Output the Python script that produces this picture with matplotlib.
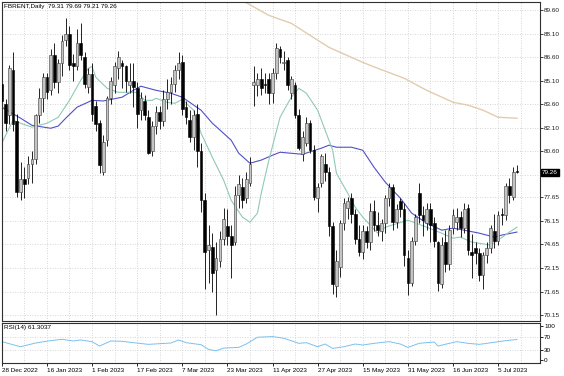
import matplotlib.pyplot as plt
from matplotlib import transforms
import numpy as np

plt.rcParams["font.family"] = ["Liberation Sans", "DejaVu Sans"]

title = "FBRENT,Daily  79.31 79.69 79.21 79.26"

# daily OHLC, 28 Dec 2022 .. 12 Jul 2023
opens = [84.9, 83.6, 82.9, 85.8, 82.5, 78.0, 78.8, 78.9, 79.8, 80.1,
         82.9, 84.0, 85.3, 84.5, 86.7, 85.0, 86.2, 87.7, 88.1, 86.2,
         86.0, 87.5, 86.6, 84.7, 85.5, 83.5, 82.4, 79.3, 81.3, 84.0,
         84.8, 85.9, 86.2, 86.0, 84.8, 85.1, 84.6, 83.2, 83.8, 82.8,
         80.6, 82.2, 83.1, 82.5, 83.9, 84.4, 84.9, 85.8, 86.3, 83.4,
         82.6, 81.5, 83.0, 80.6, 77.5, 74.3, 74.5, 73.0, 73.6, 75.0,
         75.8, 75.2, 74.8, 77.8, 78.3, 77.6, 78.6, 84.8, 84.8, 85.2,
         84.9, 85.2, 84.3, 85.6, 87.1, 86.2, 86.4, 84.3, 84.8, 82.9,
         80.4, 81.1, 82.4, 80.7, 77.6, 78.6, 79.8, 79.3, 75.8, 72.0,
         73.2, 76.0, 77.0, 77.6, 76.6, 75.0, 74.2, 75.5, 74.8, 76.8,
         75.9, 75.5, 76.0, 77.6, 78.3, 76.1, 77.4, 76.9, 73.8, 72.2,
         74.9, 77.9, 76.5, 76.0, 76.9, 76.0, 74.8, 72.1, 74.8, 73.4,
         75.7, 76.1, 76.4, 75.7, 77.0, 74.2, 74.4, 74.1, 72.7, 74.0,
         74.4, 75.5, 74.9, 76.6, 76.5, 78.4, 77.7, 79.31]
highs = [85.4, 83.9, 86.1, 86.9, 83.0, 79.9, 79.6, 80.3, 80.6, 83.0,
         84.6, 85.6, 85.6, 87.1, 87.5, 86.5, 88.0, 89.1, 88.6, 86.8,
         88.4, 88.8, 86.9, 85.9, 86.2, 83.8, 82.6, 81.6, 84.1, 85.3,
         86.3, 87.0, 86.4, 86.1, 86.2, 86.2, 85.0, 84.4, 84.2, 83.2,
         82.5, 83.5, 83.5, 84.5, 85.2, 85.3, 86.1, 86.9, 86.7, 83.8,
         83.2, 83.2, 83.6, 81.1, 77.9, 75.9, 75.4, 74.8, 75.5, 77.0,
         76.9, 75.9, 78.4, 79.1, 78.9, 79.3, 80.2, 86.0, 85.6, 85.9,
         85.6, 85.6, 85.9, 87.5, 87.3, 87.0, 86.6, 85.4, 85.0, 83.3,
         81.9, 82.8, 82.6, 81.0, 78.6, 80.4, 80.5, 79.6, 76.1, 74.3,
         76.2, 77.6, 77.7, 77.9, 76.9, 75.9, 75.9, 75.8, 77.3, 77.5,
         76.7, 76.3, 77.8, 78.6, 78.5, 77.2, 77.6, 77.3, 74.3, 75.1,
         76.6, 78.6, 77.1, 77.3, 77.3, 76.4, 74.9, 75.1, 75.6, 75.9,
         76.9, 77.0, 76.8, 77.3, 77.2, 75.3, 74.8, 74.4, 74.2, 74.8,
         75.9, 76.6, 76.8, 77.0, 78.6, 78.9, 79.6, 79.69]
lows = [83.3, 81.9, 82.3, 81.9, 77.7, 77.5, 77.6, 78.5, 78.6, 79.8,
        82.4, 83.1, 83.9, 84.2, 84.6, 84.3, 85.4, 87.3, 85.8, 85.1,
        85.8, 86.4, 84.6, 84.3, 82.5, 81.9, 79.2, 79.1, 80.9, 83.6,
        84.3, 85.2, 84.6, 84.4, 84.3, 83.4, 82.1, 82.6, 82.6, 80.4,
        80.3, 81.7, 82.0, 82.2, 83.3, 83.6, 84.4, 85.2, 82.9, 82.3,
        81.2, 80.7, 79.6, 76.7, 71.8, 72.2, 71.6, 70.15, 73.2, 74.6,
        74.6, 72.5, 74.6, 77.0, 77.0, 77.3, 78.4, 83.5, 84.1, 84.2,
        84.3, 83.6, 83.7, 85.2, 86.2, 85.8, 84.5, 83.9, 82.7, 80.7,
        80.0, 80.9, 80.5, 77.5, 76.7, 78.3, 78.7, 75.2, 71.5, 71.3,
        72.6, 75.6, 76.3, 76.0, 74.7, 73.9, 73.7, 74.4, 74.3, 75.5,
        75.2, 74.9, 75.4, 77.1, 75.6, 75.7, 76.4, 73.3, 71.4, 72.0,
        74.6, 76.0, 75.2, 75.6, 74.8, 74.5, 71.7, 71.9, 72.9, 73.0,
        75.3, 75.6, 75.1, 75.4, 74.0, 72.5, 73.4, 72.3, 71.8, 73.5,
        74.1, 74.4, 74.6, 75.9, 76.2, 77.3, 77.5, 79.21]
closes = [83.8, 82.4, 85.9, 82.3, 78.0, 78.8, 78.5, 79.8, 80.1, 82.9,
          84.0, 85.3, 84.4, 86.7, 85.0, 86.2, 87.6, 88.1, 86.1, 86.0,
          87.5, 86.7, 84.9, 85.5, 83.0, 82.3, 79.7, 81.2, 84.0, 85.1,
          86.0, 86.6, 86.0, 85.1, 85.1, 84.7, 83.0, 84.0, 82.9, 80.5,
          82.2, 83.1, 82.5, 83.9, 84.4, 84.9, 85.8, 86.2, 83.3, 82.8,
          81.5, 82.9, 80.6, 77.5, 74.2, 74.6, 72.8, 73.8, 75.0, 76.3,
          75.2, 74.6, 77.8, 78.5, 77.5, 78.8, 79.8, 85.0, 85.2, 84.6,
          84.8, 84.3, 85.6, 87.2, 86.6, 86.3, 84.8, 85.2, 82.9, 80.8,
          81.5, 82.4, 80.7, 77.7, 78.3, 80.3, 79.3, 75.8, 72.1, 73.6,
          76.0, 77.3, 77.4, 76.6, 75.0, 74.2, 75.5, 74.8, 76.8, 75.9,
          75.6, 76.0, 77.6, 78.3, 76.1, 76.9, 76.9, 74.0, 72.2, 74.9,
          76.4, 76.5, 76.2, 76.9, 75.9, 74.9, 72.2, 74.6, 73.4, 75.6,
          76.5, 76.4, 75.7, 76.9, 74.3, 74.0, 74.1, 72.7, 74.0, 74.4,
          75.7, 74.9, 76.5, 76.5, 78.4, 77.8, 79.3, 79.26]

# moving averages, read as (bar, value)
fast_x = [0, 3, 5, 8, 12, 15, 18, 21, 23, 24, 25, 28, 31, 33, 36, 38, 40, 41, 44, 46,
          48, 51, 53, 56, 59, 61, 64, 66, 68, 69, 71, 74, 77, 79, 81, 84, 86, 88, 89,
          92, 94, 96, 100, 102, 108, 113, 117, 120, 122, 125, 130, 132, 135, 137]
fast_y = [81.11, 82.57, 82.38, 82.13, 82.38, 82.76, 83.84, 85.12, 85.88, 86.0, 85.31,
          84.61, 84.35, 84.35, 84.35, 83.84, 83.84, 83.97, 83.71, 83.65, 83.9, 83.21,
          81.74, 80.21, 78.75, 77.47, 76.39, 76.07, 76.65, 77.92, 80.0, 82.76, 84.04,
          84.61, 84.29, 83.21, 81.93, 80.66, 79.19, 77.92, 77.03, 76.39, 75.37, 75.75,
          76.2, 75.75, 75.37, 75.05, 75.12, 74.8, 74.61, 74.93, 75.44, 75.75]
mid_x = [0, 5, 8, 13, 15, 17, 20, 24, 27, 32, 35, 37, 41, 45, 48, 53, 56, 61, 63, 66,
         69, 72, 74, 80, 85, 87, 89, 93, 96, 99, 102, 106, 109, 113, 117, 120, 123, 127,
         131, 133, 137]
mid_y = [83.4, 82.7, 82.25, 82.06, 82.2, 82.7, 83.4, 83.84, 83.8, 84.04, 84.48, 84.74,
         84.48, 84.29, 84.04, 83.21, 82.38, 81.3, 80.47, 79.83, 80.03, 80.34, 80.53, 80.4,
         80.79, 80.98, 80.85, 80.85, 80.66, 79.57, 78.62, 77.6, 76.65, 76.01, 75.56, 75.69,
         75.56, 75.37, 75.12, 75.25, 75.44]
slow_x = [62, 64, 71, 77, 82, 87, 93, 96, 100, 107, 113, 120, 124, 128, 132, 137]
slow_y = [90.6, 90.2, 89.26, 88.75, 87.98, 87.22, 86.58, 86.26, 85.88, 85.25, 84.48,
          83.72, 83.53, 83.21, 82.76, 82.70]

rsi_x = [0, 4, 5, 9, 13, 16, 19, 21, 24, 26, 29, 32, 35, 39, 42, 45, 47, 49, 53, 55,
         57, 59, 63, 65, 68, 72, 75, 79, 81, 84, 86, 88, 91, 94, 96, 99, 103, 106, 108,
         111, 115, 116, 119, 121, 124, 127, 129, 134, 137]
rsi_y = [55, 43, 40, 51, 58, 62, 57, 60, 55, 42, 57, 56, 52, 47, 49, 51, 60, 52, 46, 32,
         28, 36, 38, 48, 68, 70, 65, 50, 52, 40, 48, 35, 40, 48, 45, 50, 55, 48, 38,
         50, 54, 42, 50, 55, 50, 47, 50, 58, 61.3]

date_labels = ["28 Dec 2022", "16 Jan 2023", "1 Feb 2023", "17 Feb 2023", "7 Mar 2023",
               "23 Mar 2023", "11 Apr 2023", "27 Apr 2023", "15 May 2023", "31 May 2023",
               "16 Jun 2023", "5 Jul 2023"]
price_levels = [89.60, 88.10, 86.60, 85.10, 83.60, 82.10, 80.60, 79.10,
                77.65, 76.15, 74.65, 73.15, 71.65, 70.15]
last_price = 79.26
rsi_text = "RSI(14) 61.3037"

W, H = 564, 376
grid_c = "#c8c8c8"
fs = 4.6

fig = plt.figure(figsize=(W / 100, H / 100), dpi=100)
ax = fig.add_axes([1.5 / W, 1 - 321 / H, 538.5 / W, 319 / H])
rax = fig.add_axes([1.5 / W, 1 - 363 / H, 538.5 / W, 40 / H])

n = len(closes)
idx = np.arange(n)
o, h, l, c = map(np.array, (opens, highs, lows, closes))
up = c >= o

for g in range(0, n + 6, 6):
    ax.axvline(g, color=grid_c, ls=(0, (1, 2)), lw=0.6, zorder=0)
    rax.axvline(g, color=grid_c, ls=(0, (1, 2)), lw=0.6, zorder=0)
for p in price_levels:
    ax.axhline(p, color=grid_c, ls=(0, (1, 2)), lw=0.6, zorder=0)

ax.plot(slow_x, slow_y, color="#e2ccae", lw=1.0, zorder=1)
ax.plot(mid_x, mid_y, color="#5050c8", lw=0.8, zorder=1)
ax.plot(fast_x, fast_y, color="#8fcab4", lw=0.8, zorder=1)

ax.vlines(idx, l, h, color="black", lw=0.6, zorder=2)
ax.bar(idx[up], (c - o)[up], bottom=o[up], width=0.72, color="#c4c4c4",
       edgecolor="#3a3a3a", lw=0.4, zorder=3)
ax.bar(idx[~up], (o - c)[~up], bottom=c[~up], width=0.72, color="black",
       edgecolor="black", lw=0.4, zorder=3)

x0, x1 = -0.08, 143.14
ax.set_xlim(x0, x1)
ax.set_ylim(69.77, 90.11)
ax.set_xticks([])
ax.yaxis.tick_right()
ax.set_yticks(price_levels)
ax.set_yticklabels(["" if p == 79.10 else f"{p:.2f}" for p in price_levels])
ax.tick_params(axis="y", labelsize=fs, length=2, width=0.6, pad=1, colors="#202020")

tr = transforms.blended_transform_factory(ax.transAxes, ax.transData)
ax.text(1.004, last_price, f"{last_price:.2f}", transform=tr, ha="left", va="center",
        fontsize=fs, color="white",
        bbox=dict(boxstyle="square,pad=0.15", fc="black", ec="black"))
ax.text(0.004, 0.993, title, transform=ax.transAxes, ha="left", va="top", fontsize=fs)

rax.plot(rsi_x, rsi_y, color="#7cc0ee", lw=0.7)
for lv in (30, 70):
    rax.axhline(lv, color=grid_c, ls=(0, (1, 2)), lw=0.6, zorder=0)
rax.set_xlim(x0, x1)
rax.set_ylim(-8, 110)
rax.yaxis.tick_right()
rax.set_yticks([0, 30, 70, 100])
rax.tick_params(axis="y", labelsize=fs, length=2, width=0.6, pad=1)
rax.set_xticks(range(0, 12 * len(date_labels), 12))
rax.set_xticklabels(date_labels, ha="left")
rax.tick_params(axis="x", labelsize=fs, length=2, width=0.6, pad=1.5)
rax.text(0.004, 0.95, rsi_text, transform=rax.transAxes, ha="left", va="top", fontsize=fs)

for a in (ax, rax):
    for s in a.spines.values():
        s.set_linewidth(0.8)
        s.set_color("#303030")

fig.savefig("out.png", dpi=100)
